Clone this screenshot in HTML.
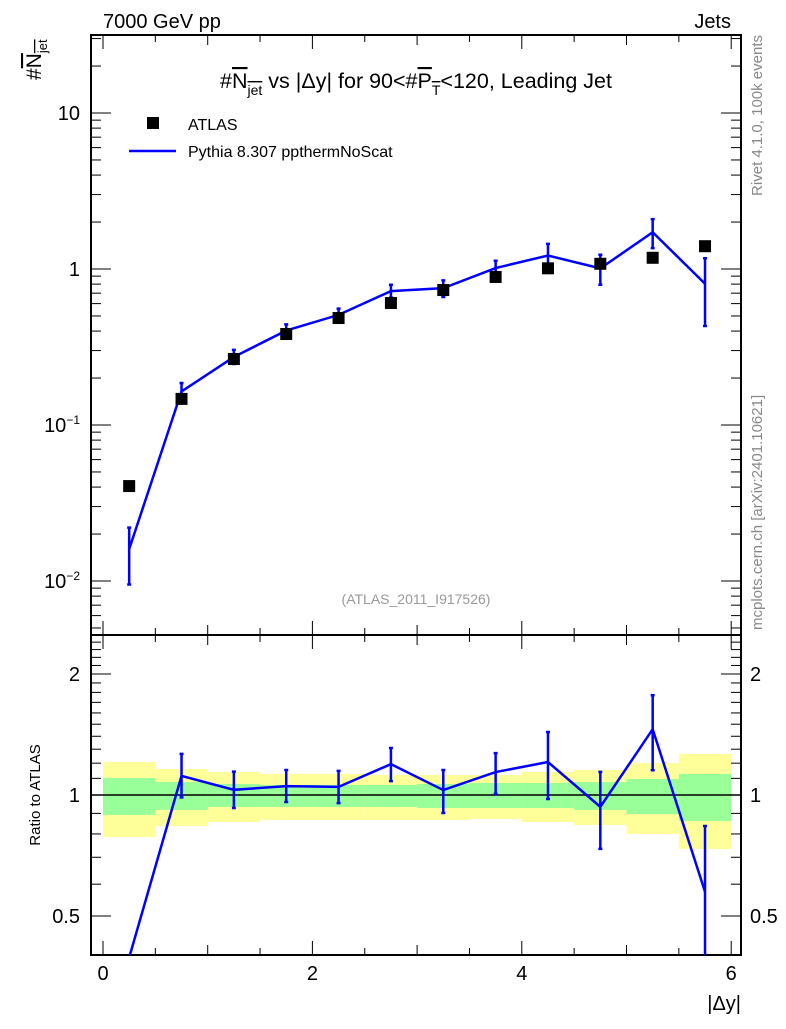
<!DOCTYPE html>
<html><head><meta charset="utf-8"><style>
body{margin:0;background:#fff;width:786px;height:1024px;overflow:hidden}
svg text{font-family:"Liberation Sans",Arial,sans-serif}
</style></head><body>
<svg id="c" width="786" height="1024" xmlns="http://www.w3.org/2000/svg">
<text x="103" y="28" font-size="20">7000 GeV pp</text>
<text x="731" y="28" font-size="20" text-anchor="end">Jets</text>
<text x="416" y="88" font-size="21.5" text-anchor="middle">#<tspan text-decoration="overline">N<tspan font-size="14" dy="7">jet</tspan></tspan><tspan dy="-7"> vs |Δy| for 90&lt;#</tspan><tspan text-decoration="overline">P<tspan font-size="14" dy="7">T</tspan></tspan><tspan dy="-7">&lt;120, Leading Jet</tspan></text>
<g>
<rect x="147" y="117" width="12" height="12" fill="#000"/>
<text x="188" y="130" font-size="16">ATLAS</text>
<line x1="129" y1="151" x2="176" y2="151" stroke="#0000ff" stroke-width="2.5"/>
<text x="188" y="157" font-size="16">Pythia 8.307 ppthermNoScat</text>
</g>
<text transform="translate(41,80) rotate(-90)" font-size="21">#<tspan text-decoration="overline">N<tspan font-size="13" dy="6">jet</tspan></tspan></text>
<text transform="translate(40,795) rotate(-90)" font-size="15" text-anchor="middle">Ratio to ATLAS</text>
<text x="741" y="1010" font-size="20" text-anchor="end">|Δy|</text>
<text transform="translate(762,35) rotate(-90)" font-size="15" fill="#888" text-anchor="end">Rivet 4.1.0,  100k events</text>
<text transform="translate(762,630) rotate(-90)" font-size="15" fill="#888">mcplots.cern.ch [arXiv:2401.10621]</text>
<text x="416" y="604" font-size="14" fill="#999" text-anchor="middle">(ATLAS_2011_I917526)</text>
<g id="g"></g>
</svg>
<script>
const binEdges=[0,0.5,1,1.5,2,2.5,3,3.5,4,4.5,5,5.5,6];
const xCenters=[0.25,0.75,1.25,1.75,2.25,2.75,3.25,3.75,4.25,4.75,5.25,5.75];
const dataVals=[0.0406,0.147,0.265,0.383,0.485,0.605,0.733,0.889,1.01,1.08,1.18,1.40];
const mcVals=[0.016,0.164,0.273,0.403,0.508,0.722,0.754,1.014,1.22,1.009,1.72,0.804];
const mcErrUp=[0.006,0.022,0.030,0.039,0.049,0.070,0.092,0.116,0.229,0.224,0.369,0.368];
const mcErrDn=[0.0065,0.019,0.027,0.035,0.045,0.067,0.093,0.120,0.233,0.216,0.360,0.373];
const band1Up=[1.102,1.077,1.065,1.059,1.059,1.059,1.065,1.071,1.071,1.077,1.096,1.128];
const band1Dn=[0.892,0.918,0.934,0.934,0.934,0.934,0.928,0.928,0.928,0.918,0.897,0.862];
const band2Up=[1.208,1.16,1.141,1.128,1.128,1.121,1.121,1.121,1.141,1.154,1.201,1.265];
const band2Dn=[0.786,0.837,0.857,0.867,0.867,0.867,0.867,0.872,0.857,0.842,0.800,0.734];
const xTicks=[0,2,4,6];
const mainYTicks=[0.01,0.1,1,10];
const mainYLabels=["10<tspan font-size='12' dy='-8'>−2</tspan>","10<tspan font-size='12' dy='-8'>−1</tspan>","1","10"];
const ratioTicks=[0.5,1,2];
const ratioLabels=["0.5","1","2"];

const L=91,R=741,T=35,MB=635,RB=955;
const X=v=>103+v*104.7;
const Y=v=>269-156*Math.log10(v);
const RY=v=>795-402*Math.log10(v);
const g=document.getElementById('g');
const NS='http://www.w3.org/2000/svg';
function mk(t,a,p){const e=document.createElementNS(NS,t);for(const k in a)e.setAttribute(k,a[k]);(p||g).appendChild(e);return e;}

for(let i=0;i<band2Up.length;i++){
 const x0=Math.max(X(binEdges[i]),L),x1=X(binEdges[i+1]);
 const r=mk('rect',{x:x0,y:RY(band2Up[i]),width:x1-x0,height:RY(band2Dn[i])-RY(band2Up[i]),fill:'#ffff99'});
 
 
}
for(let i=0;i<band1Up.length;i++){
 const x0=Math.max(X(binEdges[i]),L),x1=X(binEdges[i+1]);
 const r=mk('rect',{x:x0,y:RY(band1Up[i]),width:x1-x0,height:RY(band1Dn[i])-RY(band1Up[i]),fill:'#99ff99'});
 
 
}
const ref=mk('line',{x1:L,x2:R,y1:RY(1),y2:RY(1),stroke:'#000','stroke-width':1.5});



const f1=mk('rect',{x:L,y:T,width:R-L,height:MB-T,fill:'none',stroke:'#000','stroke-width':2});


const f2=mk('rect',{x:L,y:MB,width:R-L,height:RB-MB,fill:'none',stroke:'#000','stroke-width':2});



for(let v=0;v<=6.001;v+=0.5){
 const maj=Math.abs(v%2)<1e-6, mid=Math.abs(v%1)<1e-6;
 const len=maj?14:(mid?10:7);
 [[T,1],[MB,-1],[MB,1],[RB,-1]].forEach(([y,d])=>{
  const t=mk('line',{x1:X(v),x2:X(v),y1:y,y2:y+d*len,stroke:'#000','stroke-width':1});
  
  
 });
}
xTicks.forEach(v=>{const t=mk('text',{x:X(v),y:980,'font-size':20,'text-anchor':'middle'});t.textContent=v;
 
 });

for(let d=-3;d<=1;d++)for(let m=1;m<10;m++){
 const v=m*Math.pow(10,d),y=Y(v);if(y<T||y>MB)continue;
 const len=m==1?20:10;
 [[L,1],[R,-1]].forEach(([x,s])=>{const t=mk('line',{x1:x,x2:x+s*len,y1:y,y2:y,stroke:'#000','stroke-width':1});
  
  });
}
mainYTicks.forEach((v,i)=>{const t=mk('text',{x:80,y:Y(v)+7,'font-size':20,'text-anchor':'end'});t.innerHTML=mainYLabels[i];
 
 });

for(let v=0.4;v<=2.5001;v+=0.1){
 const y=RY(v);if(y<MB||y>RB)continue;
 const maj=ratioTicks.some(r=>Math.abs(r-v)<1e-6);const len=maj?20:10;
 [[L,1],[R,-1]].forEach(([x,s])=>{const t=mk('line',{x1:x,x2:x+s*len,y1:y,y2:y,stroke:'#000','stroke-width':1});
  
  });
}
ratioTicks.forEach((v,i)=>{[[80,'end'],[750,'start']].forEach(([x,a])=>{const t=mk('text',{x:x,y:RY(v)+7,'font-size':20,'text-anchor':a});t.textContent=ratioLabels[i];
 
 });});

const cp1=mk('clipPath',{id:'cm'});mk('rect',{x:L,y:T,width:R-L,height:MB-T},cp1);
const cp2=mk('clipPath',{id:'cr'});mk('rect',{x:L,y:MB,width:R-L,height:RB-MB},cp2);

function errBar(p,x,y1,y2,name){
 const e=mk('path',{d:`M${x},${y1}V${y2}M${x-2},${y1}h4M${x-2},${y2}h4`,stroke:'#0000ff','stroke-width':2.5,fill:'none'},p);
 
 
}

const gm=mk('g',{'clip-path':'url(#cm)'});


const pl=mk('polyline',{points:xCenters.map((x,i)=>X(x)+','+Y(mcVals[i])).join(' '),fill:'none',stroke:'#0000ff','stroke-width':2.5},gm);


xCenters.forEach((x,i)=>errBar(gm,X(x),Y(mcVals[i]+mcErrUp[i]),Y(mcVals[i]-mcErrDn[i]),'mc-error-bar'));
xCenters.forEach((x,i)=>{
 const s=mk('rect',{x:X(x)-6,y:Y(dataVals[i])-6,width:12,height:12,fill:'#000'});
 
 
});

const gr=mk('g',{'clip-path':'url(#cr)'});


const rl=mk('polyline',{points:xCenters.map((x,i)=>X(x)+','+RY(mcVals[i]/dataVals[i])).join(' '),fill:'none',stroke:'#0000ff','stroke-width':2.5},gr);


xCenters.forEach((x,i)=>{
 const r=mcVals[i]/dataVals[i];
 if(RY(r)>RB)return;
 errBar(gr,X(x),RY((mcVals[i]+mcErrUp[i])/dataVals[i]),RY(Math.max((mcVals[i]-mcErrDn[i])/dataVals[i],0.01)),'ratio-error-bar');
});
</script>
</body></html>
